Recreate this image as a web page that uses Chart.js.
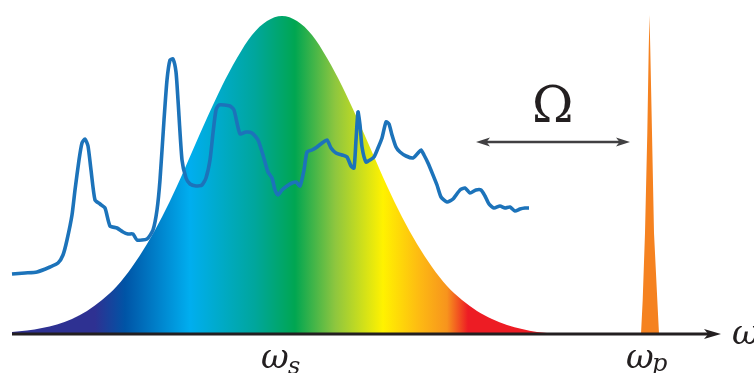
<!DOCTYPE html>
<html>
<head>
<meta charset="utf-8">
<script src="https://cdn.jsdelivr.net/npm/chart.js@4"></script>
<style>
  html, body { margin: 0; padding: 0; background: #fff; }
  canvas { display: block; }
</style>
</head>
<body>
<canvas id="chart" width="754" height="373"></canvas>
<script>
// signal band (gaussian envelope), frequency vs intensity
const bandX = [12, 27, 42, 57, 72, 87, 102, 117, 132, 147, 162, 177, 192, 207, 222, 237, 252, 267, 282,
  297, 312, 327, 342, 357, 372, 387, 402, 417, 432, 447, 462, 477, 492, 507, 522, 537, 552];
const bandY = [2, 3.5, 6, 9.6, 15, 23, 34, 48, 67, 90, 117, 148, 182, 216, 248, 276, 299, 313, 318,
  313, 299, 276, 248, 216, 182, 148, 117, 90, 67, 48, 34, 23, 15, 9, 5, 2, 0.5];

// measured spectrum (blue trace)
const specX = [12, 25, 37, 50, 58, 63, 67, 72, 75, 79, 82, 85, 88, 91, 95, 100, 105, 110, 117, 123, 128, 133,
  137, 147, 153, 157, 160, 164, 167, 170, 173, 176, 178, 182, 186, 190, 196, 202, 206, 210, 213, 216, 219,
  230, 234, 240, 246, 252, 258, 263, 268, 272, 275, 278, 282, 287, 292, 296, 300, 304, 307, 312, 317, 322,
  327, 331, 336, 342, 347, 351, 354, 356, 358, 360, 362, 366, 370, 374, 378, 382, 386, 389, 392, 396, 400,
  406, 413, 418, 421, 424, 428, 433, 437, 441, 447, 453, 460, 465, 470, 476, 481, 485, 489, 494, 500, 505,
  510, 515, 520, 525, 529];
const specY = [60, 61, 62, 67, 71, 79, 94, 119, 144, 174, 191, 195, 188, 164, 134, 130, 126, 108, 106, 102, 100, 100,
  94, 95, 104, 124, 154, 214, 254, 274, 275, 262, 234, 174, 156, 150, 148, 149, 156, 174, 201, 224, 229,
  228, 224, 200, 202, 201, 194, 179, 162, 156, 144, 139, 144, 148, 151, 152, 148, 164, 182, 184, 187, 191,
  194, 186, 181, 179, 177, 168, 166, 194, 222, 209, 187, 172, 174, 177, 186, 196, 212, 210, 199, 187, 182,
  178, 176, 181, 184, 179, 171, 159, 149, 137, 132, 135, 144, 146, 141, 144, 144, 138, 130, 126, 128, 126,
  127, 123, 125, 126, 126];

// pump line
const pumpX = [641, 642.7, 645, 647.3, 648.7, 649.5, 650.3, 652, 654, 657.3, 659];
const pumpY = [0, 34, 101, 201, 284, 319, 284, 201, 101, 34, 0];

const toPoints = (xs, ys) => xs.map((x, i) => ({ x: x, y: ys[i] }));

// rainbow colour stops along the frequency axis
const rainbow = [
  [12, '#2e3192'], [95, '#2e3192'], [125, '#0054a6'], [190, '#00aeef'], [255, '#00a69c'],
  [295, '#00a651'], [335, '#8dc63f'], [383, '#fff200'], [420, '#fdb913'], [447, '#f7941d'],
  [468, '#ed1c24'], [552, '#ed1c24']
];

const rainbowFill = (context) => {
  const chart = context.chart;
  const { ctx, chartArea, scales } = chart;
  if (!chartArea) return '#00a651';
  const x0 = scales.x.getPixelForValue(rainbow[0][0]);
  const x1 = scales.x.getPixelForValue(rainbow[rainbow.length - 1][0]);
  const g = ctx.createLinearGradient(x0, 0, x1, 0);
  rainbow.forEach(([v, c]) => g.addColorStop((v - rainbow[0][0]) / (rainbow[rainbow.length - 1][0] - rainbow[0][0]), c));
  return g;
};

const arrowHead = (ctx, x, y, dir, len, half) => {
  ctx.beginPath();
  ctx.moveTo(x, y);
  ctx.lineTo(x - dir * len, y - half);
  ctx.lineTo(x - dir * len * 0.75, y);
  ctx.lineTo(x - dir * len, y + half);
  ctx.closePath();
  ctx.fill();
};

const annotations = {
  id: 'annotations',
  afterDatasetsDraw(chart) {
    const { ctx, scales } = chart;
    const px = (v) => scales.x.getPixelForValue(v);
    const py = (v) => scales.y.getPixelForValue(v);
    ctx.save();

    // frequency axis
    const y0 = py(0);
    ctx.strokeStyle = '#231f20';
    ctx.fillStyle = '#231f20';
    ctx.lineWidth = 3.2;
    ctx.beginPath();
    ctx.moveTo(px(12), y0);
    ctx.lineTo(px(710), y0);
    ctx.stroke();
    arrowHead(ctx, px(721), y0, 1, 17, 5);

    // detuning arrow
    const ya = py(192);
    ctx.strokeStyle = '#414042';
    ctx.fillStyle = '#414042';
    ctx.lineWidth = 2.6;
    ctx.beginPath();
    ctx.moveTo(px(484), ya);
    ctx.lineTo(px(622), ya);
    ctx.stroke();
    arrowHead(ctx, px(476), ya, -1, 14, 4.5);
    arrowHead(ctx, px(630), ya, 1, 14, 4.5);

    // labels
    ctx.fillStyle = '#231f20';
    ctx.textBaseline = 'alphabetic';
    ctx.textAlign = 'left';
    ctx.font = '50px "DejaVu Serif"';
    ctx.fillText('\u03A9', px(532), py(212));

    ctx.font = 'italic 34px "DejaVu Serif"';
    ctx.fillText('\u03C9', px(261), py(-34));
    ctx.fillText('\u03C9', px(626), py(-34));
    ctx.fillText('\u03C9', px(732), py(-10));
    ctx.font = 'italic 24px "DejaVu Serif"';
    ctx.fillText('s', px(288), py(-40));
    ctx.fillText('p', px(652), py(-37));
    ctx.restore();
  }
};

new Chart(document.getElementById('chart'), {
  type: 'line',
  data: {
    datasets: [
      {
        label: 'spectrum',
        data: toPoints(specX, specY),
        borderColor: '#1c73ba',
        borderWidth: 3.6,
        pointRadius: 0,
        tension: 0.2,
        fill: false,
        order: 0
      },
      {
        label: 'pump',
        data: toPoints(pumpX, pumpY),
        borderWidth: 0,
        borderColor: 'rgba(0,0,0,0)',
        backgroundColor: '#f58220',
        pointRadius: 0,
        tension: 0,
        fill: 'origin',
        order: 1
      },
      {
        label: 'band',
        data: toPoints(bandX, bandY),
        borderWidth: 0,
        borderColor: 'rgba(0,0,0,0)',
        backgroundColor: rainbowFill,
        pointRadius: 0,
        cubicInterpolationMode: 'monotone',
        fill: 'origin',
        order: 2
      }
    ]
  },
  options: {
    responsive: false,
    devicePixelRatio: 1,
    animation: false,
    layout: { padding: 0 },
    plugins: { legend: { display: false }, tooltip: { enabled: false } },
    scales: {
      x: { type: 'linear', min: 0, max: 754, display: false },
      y: { type: 'linear', min: -39, max: 334, display: false }
    }
  },
  plugins: [annotations]
});
</script>
</body>
</html>
